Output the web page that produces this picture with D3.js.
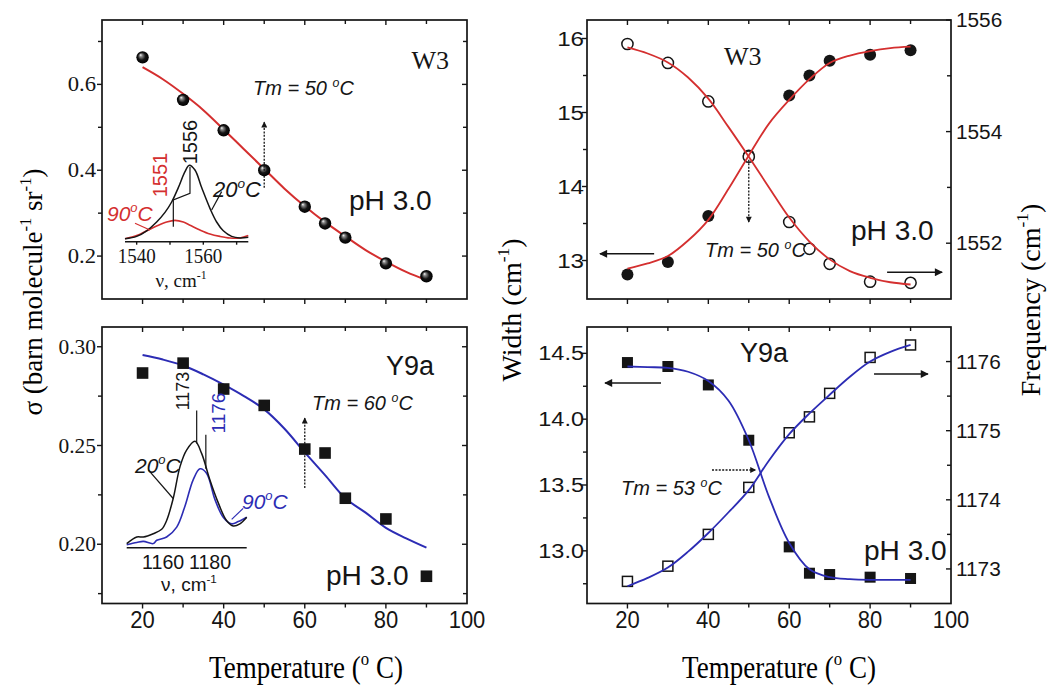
<!DOCTYPE html>
<html><head><meta charset="utf-8">
<script src="https://cdn.jsdelivr.net/npm/d3@7"></script>
<style>body{margin:0;background:#fff;} svg{display:block;}</style>
</head><body>
<svg id="chart" width="1050" height="689"></svg>
<script>
// ---------------- DATA ----------------
const temps = [20, 30, 40, 50, 60, 65, 70, 80, 90];
const fitTemps = [20, 25, 30, 35, 40, 45, 50, 55, 60, 65, 70, 75, 80, 85, 90];

// top-left: W3 cross-section
const w3Sigma    = [0.663, 0.564, 0.493, 0.400, 0.315, 0.276, 0.243, 0.183, 0.153];
const w3SigmaFit = [0.640, 0.612, 0.578, 0.540, 0.495, 0.449, 0.403, 0.357, 0.316, 0.279, 0.246, 0.214, 0.187, 0.163, 0.144];

// bottom-left: Y9a cross-section
const y9aSigma    = [0.2867, 0.2917, 0.2786, 0.2703, 0.2482, 0.2462, 0.2233, 0.2128, 0.1838];
const y9aSigmaFit = [0.2958, 0.2935, 0.2905, 0.2860, 0.2808, 0.2750, 0.2683, 0.2585, 0.2465, 0.2350, 0.2233, 0.2160, 0.2083, 0.2030, 0.1983];

// top-right: W3 width (filled) and frequency (open)
const w3Width    = [12.81, 12.98, 13.60, 14.42, 15.23, 15.50, 15.70, 15.78, 15.84];
const w3WidthFit = [12.89, 12.96, 13.06, 13.27, 13.55, 13.97, 14.42, 14.85, 15.17, 15.45, 15.67, 15.77, 15.83, 15.87, 15.89];
const w3Freq     = [1555.57, 1555.23, 1554.54, 1553.55, 1552.38, 1551.90, 1551.63, 1551.31, 1551.29];
const w3FreqFit  = [1555.51, 1555.40, 1555.24, 1554.97, 1554.59, 1554.08, 1553.55, 1553.00, 1552.46, 1552.03, 1551.71, 1551.50, 1551.38, 1551.30, 1551.26];

// bottom-right: Y9a width (filled) and frequency (open)
const y9aWidth    = [14.43, 14.40, 14.26, 13.84, 13.03, 12.83, 12.82, 12.80, 12.79];
const y9aWidthFit = [14.40, 14.395, 14.39, 14.36, 14.29, 14.14, 13.84, 13.41, 13.06, 12.86, 12.80, 12.785, 12.78, 12.78, 12.78];
const y9aFreq     = [1172.82, 1173.04, 1173.50, 1174.18, 1174.97, 1175.20, 1175.54, 1176.06, 1176.24];
const y9aFreqFit  = [1172.75, 1172.87, 1173.02, 1173.25, 1173.52, 1173.82, 1174.14, 1174.57, 1174.95, 1175.25, 1175.52, 1175.78, 1176.00, 1176.14, 1176.24];

// inset spectra
const w3SpecNu   = [1536.5, 1540, 1543, 1546, 1548.5, 1550.5, 1552.5, 1554.5, 1555.8, 1557.5, 1559.5, 1562, 1564, 1566, 1568.5, 1571, 1573.5];
const w3Spec20   = [0.04, 0.07, 0.14, 0.25, 0.37, 0.50, 0.68, 0.88, 0.96, 0.90, 0.68, 0.42, 0.25, 0.14, 0.07, 0.05, 0.06];
const w3Spec90Nu = [1536.5, 1540, 1543, 1546, 1549, 1551.5, 1554, 1556, 1559, 1562, 1565, 1568, 1571, 1573.5];
const w3Spec90   = [0.04, 0.08, 0.14, 0.20, 0.25, 0.27, 0.25, 0.21, 0.15, 0.10, 0.07, 0.05, 0.05, 0.08];

const y9aSpecNu   = [1144.5, 1148.8, 1151.6, 1155.8, 1159.4, 1161.5, 1164.3, 1167.2, 1170.0, 1173.6, 1176.4, 1179.9, 1183.5, 1187.0, 1189.9, 1192.7, 1195.6];
const y9aSpec20   = [0.04, 0.10, 0.10, 0.13, 0.17, 0.25, 0.45, 0.74, 0.89, 0.97, 0.86, 0.62, 0.41, 0.25, 0.20, 0.22, 0.28];
const y9aSpec90Nu = [1144.5, 1148.8, 1151.6, 1155.8, 1157.3, 1161.5, 1165.8, 1169.3, 1172.8, 1175.7, 1178.5, 1182.1, 1185.6, 1189.2, 1192.0, 1195.6];
const y9aSpec90   = [0.03, 0.05, 0.06, 0.04, 0.07, 0.10, 0.19, 0.38, 0.62, 0.72, 0.68, 0.44, 0.28, 0.22, 0.24, 0.28];

// tick labels
const xTickLabels  = [20, 40, 60, 80, 100];
const xMinorTicks  = [30, 50, 70, 90];
const tlYTicks     = ["0.2", "0.4", "0.6"];
const tlYMinor     = [0.3, 0.5, 0.7];
const blYTicks     = ["0.20", "0.25", "0.30"];
const blYMinor     = [0.175, 0.225, 0.275];
const trLeftTicks  = ["13", "14", "15", "16"];
const trLeftMinor  = [13.5, 14.5, 15.5];
const trRightTicks = ["1552", "1554", "1556"];
const trRightMinor = [1553, 1555];
const brLeftTicks  = ["13.0", "13.5", "14.0", "14.5"];
const brLeftMinor  = [12.75, 13.25, 13.75, 14.25];
const brRightTicks = ["1173", "1174", "1175", "1176"];
const brRightMinor = [1173.5, 1174.5, 1175.5];
const w3InsetTicks  = ["1540", "1560"];
const y9aInsetTicks = ["1160", "1180"];

// ---------------- SETUP ----------------
const svg = d3.select('#chart');
const SERIF = '"Liberation Serif","Times New Roman",serif';
const SANS = '"Liberation Sans",Arial,sans-serif';
const RED = '#d42f2f', BLUE = '#2c2cb4', INK = '#151515';

const defs = svg.append('defs');
const grad = defs.append('radialGradient').attr('id', 'sphere')
  .attr('cx', '50%').attr('cy', '50%').attr('r', '50%').attr('fx', '33%').attr('fy', '30%');
grad.append('stop').attr('offset', '0').attr('stop-color', '#ffffff');
grad.append('stop').attr('offset', '0.22').attr('stop-color', '#8a8a8a');
grad.append('stop').attr('offset', '0.6').attr('stop-color', '#151515');
grad.append('stop').attr('offset', '1').attr('stop-color', '#000');
function arrowDef(id, w, h) {
  defs.append('marker').attr('id', id).attr('viewBox', '0 0 10 10')
    .attr('refX', 9).attr('refY', 5).attr('markerWidth', w).attr('markerHeight', h)
    .attr('markerUnits', 'userSpaceOnUse').attr('orient', 'auto')
    .append('path').attr('d', 'M0,0 L10,5 L0,10 z').attr('fill', INK);
}
arrowDef('headS', 13, 8);
arrowDef('headD', 7, 6);

// text helper with superscript parts
function label(g, x, y, parts, o = {}) {
  const size = o.size || 20;
  let tf = `translate(${x},${y})`;
  if (o.rot) tf += ` rotate(${o.rot})`;
  if (o.sx || o.sy) tf += ` scale(${o.sx || 1},${o.sy || 1})`;
  const t = g.append('text').attr('transform', tf)
    .attr('font-family', o.font || SANS).attr('font-size', size)
    .attr('text-anchor', o.anchor || 'start').attr('fill', o.fill || INK);
  if (o.italic) t.attr('font-style', 'italic');
  let cur = 0;
  (typeof parts === 'string' ? [parts] : parts).forEach(p => {
    if (typeof p === 'string') {
      const ts = t.append('tspan').text(p);
      if (cur) { ts.attr('dy', -cur); cur = 0; }
    } else {
      const sh = -size * 0.42;
      t.append('tspan').text(p.sup).attr('font-size', size * 0.62).attr('dy', sh - cur);
      cur = sh;
    }
  });
  return t;
}

function tickLines(g, scale, vals, axis, pos, len) {
  g.selectAll(null).data(vals).join('line')
    .attr('x1', d => axis === 'x' ? scale(d) : pos)
    .attr('x2', d => axis === 'x' ? scale(d) : pos + len)
    .attr('y1', d => axis === 'x' ? pos : scale(d))
    .attr('y2', d => axis === 'x' ? pos + len : scale(d))
    .attr('stroke', INK).attr('stroke-width', 1.4);
}

const xL = d3.scaleLinear([10, 100], [102, 467]);
const xR = d3.scaleLinear([10, 100], [587, 951]);
const TOP = [20, 299], BOT = [327, 603.5];

function frame(g, xs, ys, bottomLabels) {
  const [x0, x1] = xs.range();
  const [y1, y0] = ys.range();
  tickLines(g, xs, xTickLabels.filter(v => v < 100), 'x', y1, 5);
  tickLines(g, xs, xMinorTicks, 'x', y1, 4);
  tickLines(g, xs, xTickLabels.filter(v => v < 100), 'x', y0, 5);
  tickLines(g, xs, xMinorTicks, 'x', y0, 4);
  g.append('rect').attr('x', x0).attr('y', y0).attr('width', x1 - x0).attr('height', y1 - y0)
    .attr('fill', 'none').attr('stroke', INK).attr('stroke-width', 1.7);
  if (bottomLabels) {
    xTickLabels.forEach(d => label(g, xs(d), 628, String(d), {size: 22, anchor: 'middle', sy: 1.05}));
  }
}

function lineGen(xs, ys) {
  return d3.line().x(d => xs(d[0])).y(d => ys(d[1])).curve(d3.curveCatmullRom.alpha(0.5));
}
const zip = (a, b) => a.map((v, i) => [v, b[i]]);

function dashedArrow(g, pts) {
  g.append('path').attr('d', d3.line()(pts)).attr('fill', 'none')
    .attr('stroke', INK).attr('stroke-width', 1.3).attr('stroke-dasharray', '2,1.4')
    .attr('marker-end', 'url(#headD)');
}
function solidArrow(g, pts) {
  g.append('path').attr('d', d3.line()(pts)).attr('fill', 'none')
    .attr('stroke', INK).attr('stroke-width', 1.5).attr('marker-end', 'url(#headS)');
}

// ---------------- TOP-LEFT ----------------
{
  const g = svg.append('g');
  const y = d3.scaleLinear([0.1, 0.75], [TOP[1], TOP[0]]);
  frame(g, xL, y, false);
  tickLines(g, y, tlYTicks.map(Number), 'y', 102, -5);
  tickLines(g, y, tlYMinor, 'y', 102, -4);
  tickLines(g, y, tlYTicks.map(Number), 'y', 467, -5);
  tickLines(g, y, tlYMinor, 'y', 467, -4);
  tlYTicks.forEach(t => label(g, 96, y(+t) + 7, t, {font: SERIF, size: 21, anchor: 'end', sx: 1.08}));

  g.append('path').attr('d', lineGen(xL, y)(zip(fitTemps, w3SigmaFit)))
    .attr('fill', 'none').attr('stroke', RED).attr('stroke-width', 2);
  g.selectAll(null).data(zip(temps, w3Sigma)).join('circle')
    .attr('cx', d => xL(d[0])).attr('cy', d => y(d[1])).attr('r', 6.2).attr('fill', 'url(#sphere)');

  // inset
  const xi = d3.scaleLinear([1536.5, 1573.5], [125, 248.3]);
  const yi = d3.scaleLinear([0, 1], [242, 162]);
  g.append('line').attr('x1', xi.range()[0]).attr('x2', xi.range()[1]).attr('y1', 241.7).attr('y2', 241.7)
    .attr('stroke', INK).attr('stroke-width', 1.4);
  tickLines(g, xi, [1540, 1550, 1560, 1570], 'x', 241.7, 3);
  const li = lineGen(xi, yi);
  g.append('path').attr('d', li(zip(w3Spec90Nu, w3Spec90))).attr('fill', 'none').attr('stroke', RED).attr('stroke-width', 1.6);
  g.append('path').attr('d', li(zip(w3SpecNu, w3Spec20))).attr('fill', 'none').attr('stroke', INK).attr('stroke-width', 1.5);
  const pl = d3.line().x(d => xi(d[0])).y(d => yi(d[1]));
  g.append('path').attr('d', pl([[1556, 0.94], [1556, 0.608], [1551, 0.525], [1551, 0.19]])).attr('fill', 'none').attr('stroke', INK).attr('stroke-width', 1.2);
  g.append('path').attr('d', pl([[1565.5, 0.63], [1562.5, 0.40]])).attr('fill', 'none').attr('stroke', INK).attr('stroke-width', 1.2);
  g.append('path').attr('d', pl([[1539.5, 0.234], [1544, 0.15]])).attr('fill', 'none').attr('stroke', RED).attr('stroke-width', 1.2);
  w3InsetTicks.forEach(t => label(g, xi(+t), 263, t, {font: SERIF, size: 19, anchor: 'middle', sy: 1.1}));
  label(g, 181, 287, ['ν, cm', {sup: '-1'}], {font: SERIF, size: 19, anchor: 'middle'});
  label(g, 190 + 7, 142, '1556', {size: 20, anchor: 'middle', rot: -90});
  label(g, 160 + 7, 175, '1551', {size: 20, anchor: 'middle', rot: -90, fill: RED});
  label(g, 213, 197, ['20', {sup: 'o'}, 'C'], {size: 22, italic: true});
  label(g, 107, 221, ['90', {sup: 'o'}, 'C'], {size: 21, italic: true, fill: RED});

  label(g, 449, 69, 'W3', {font: SERIF, size: 26, anchor: 'end'});
  label(g, 253, 95, ['Tm = 50 ', {sup: 'o'}, 'C'], {size: 20, italic: true});
  label(g, 349, 210, 'pH 3.0', {size: 27, sx: 1.04});
  dashedArrow(g, [[xL(50), y(0.359)], [xL(50), y(0.512)]]);
}

// ---------------- BOTTOM-LEFT ----------------
{
  const g = svg.append('g');
  const y = d3.scaleLinear([0.17, 0.31], [BOT[1], BOT[0]]);
  frame(g, xL, y, true);
  tickLines(g, y, blYTicks.map(Number), 'y', 102, -5);
  tickLines(g, y, blYMinor, 'y', 102, -4);
  tickLines(g, y, blYTicks.map(Number), 'y', 467, -5);
  tickLines(g, y, blYMinor, 'y', 467, -4);
  blYTicks.forEach(t => label(g, 96, y(+t) + 7, t, {font: SERIF, size: 21, anchor: 'end', sx: 1.02}));

  g.append('path').attr('d', lineGen(xL, y)(zip(fitTemps, y9aSigmaFit)))
    .attr('fill', 'none').attr('stroke', BLUE).attr('stroke-width', 2);
  g.selectAll(null).data(zip(temps, y9aSigma)).join('rect')
    .attr('x', d => xL(d[0]) - 5.8).attr('y', d => y(d[1]) - 5.8).attr('width', 11.6).attr('height', 11.6).attr('fill', INK);

  const xi = d3.scaleLinear([1144.5, 1195.6], [126.7, 246.7]);
  const yi = d3.scaleLinear([0, 1], [548, 438]);
  g.append('line').attr('x1', xi.range()[0]).attr('x2', xi.range()[1]).attr('y1', 547.7).attr('y2', 547.7)
    .attr('stroke', INK).attr('stroke-width', 1.4);
  const li = lineGen(xi, yi);
  g.append('path').attr('d', li(zip(y9aSpec90Nu, y9aSpec90))).attr('fill', 'none').attr('stroke', BLUE).attr('stroke-width', 1.6);
  g.append('path').attr('d', li(zip(y9aSpecNu, y9aSpec20))).attr('fill', 'none').attr('stroke', INK).attr('stroke-width', 1.5);
  const pl = d3.line().x(d => xi(d[0])).y(d => yi(d[1]));
  g.append('path').attr('d', pl([[1174.3, 1.25], [1174.3, 0.95]])).attr('fill', 'none').attr('stroke', INK).attr('stroke-width', 1.2);
  g.append('path').attr('d', pl([[1178.2, 1.03], [1178.2, 0.72]])).attr('fill', 'none').attr('stroke', INK).attr('stroke-width', 1.2);
  g.append('path').attr('d', pl([[1153.7, 0.71], [1164.3, 0.45]])).attr('fill', 'none').attr('stroke', INK).attr('stroke-width', 1.2);
  g.append('path').attr('d', pl([[1189.2, 0.26], [1194.1, 0.36]])).attr('fill', 'none').attr('stroke', BLUE).attr('stroke-width', 1.2);
  y9aInsetTicks.forEach(t => label(g, xi(+t), 569, t, {size: 20, anchor: 'middle', sx: 0.98}));
  label(g, 189, 591, ['ν, cm', {sup: '-1'}], {size: 19, anchor: 'middle'});
  label(g, 182 + 6.5, 391, '1173', {size: 18, anchor: 'middle', rot: -90});
  label(g, 218 + 7, 413, '1176', {size: 19, anchor: 'middle', rot: -90, fill: BLUE});
  label(g, 135, 473, ['20', {sup: 'o'}, 'C'], {size: 21, italic: true});
  label(g, 242, 509, ['90', {sup: 'o'}, 'C'], {size: 21, italic: true, fill: BLUE});

  label(g, 386, 375, 'Y9a', {size: 27});
  label(g, 312, 410, ['Tm = 60 ', {sup: 'o'}, 'C'], {size: 20, italic: true});
  label(g, 326, 585, 'pH 3.0', {size: 27, sx: 1.04});
  dashedArrow(g, [[xL(60), y(0.2285)], [xL(60), y(0.2639)]]);
}

// ---------------- TOP-RIGHT ----------------
{
  const g = svg.append('g');
  const yw = d3.scaleLinear([12.48, 16.25], [TOP[1], TOP[0]]);
  const yf = d3.scaleLinear([1551, 1556], [TOP[1], TOP[0]]);
  frame(g, xR, yw, false);
  tickLines(g, yw, trLeftTicks.map(Number), 'y', 587, -5);
  tickLines(g, yw, trLeftMinor, 'y', 587, -4);
  tickLines(g, yf, trRightTicks.map(Number), 'y', 951, -5);
  tickLines(g, yf, trRightMinor, 'y', 951, -4);
  trLeftTicks.forEach(t => label(g, 584, yw(+t) + 7, t, {size: 21, anchor: 'end', sx: 1.15}));
  trRightTicks.forEach(t => label(g, 956, yf(+t) + 7, t, {size: 20, sx: 1.04}));

  g.selectAll(null).data(zip(temps, w3Width)).join('circle')
    .attr('cx', d => xR(d[0])).attr('cy', d => yw(d[1])).attr('r', 6).attr('fill', INK);
  g.selectAll(null).data(zip(temps, w3Freq)).join('circle')
    .attr('cx', d => xR(d[0])).attr('cy', d => yf(d[1])).attr('r', 5.6)
    .attr('fill', '#fff').attr('stroke', INK).attr('stroke-width', 1.5);
  g.append('path').attr('d', lineGen(xR, yw)(zip(fitTemps, w3WidthFit)))
    .attr('fill', 'none').attr('stroke', RED).attr('stroke-width', 1.8);
  g.append('path').attr('d', lineGen(xR, yf)(zip(fitTemps, w3FreqFit)))
    .attr('fill', 'none').attr('stroke', RED).attr('stroke-width', 1.8);

  label(g, 724, 65, 'W3', {font: SERIF, size: 26});
  label(g, 705, 257, ['Tm = 50 ', {sup: 'o'}, 'C'], {size: 20, italic: true});
  label(g, 851, 240, 'pH 3.0', {size: 27, sx: 1.04});
  dashedArrow(g, [[xR(50), yw(14.36)], [xR(50), yw(13.52)]]);
  solidArrow(g, [[xR(26.6), yw(13.09)], [xR(13.2), yw(13.09)]]);
  solidArrow(g, [[xR(84.2), yf(1551.48)], [xR(97.8), yf(1551.48)]]);
}

// ---------------- BOTTOM-RIGHT ----------------
{
  const g = svg.append('g');
  const yw = d3.scaleLinear([12.6, 14.7], [BOT[1], BOT[0]]);
  const yf = d3.scaleLinear([1172.5, 1176.5], [BOT[1], BOT[0]]);
  frame(g, xR, yw, true);
  tickLines(g, yw, brLeftTicks.map(Number), 'y', 587, -5);
  tickLines(g, yw, brLeftMinor, 'y', 587, -4);
  tickLines(g, yf, brRightTicks.map(Number), 'y', 951, -5);
  tickLines(g, yf, brRightMinor, 'y', 951, -4);
  brLeftTicks.forEach(t => label(g, 584, yw(+t) + 7, t, {size: 21, anchor: 'end', sx: 1.12}));
  brRightTicks.forEach(t => label(g, 956, yf(+t) + 7, t, {size: 20, sx: 1.04}));

  g.selectAll(null).data(zip(temps, y9aWidth)).join('rect')
    .attr('x', d => xR(d[0]) - 5.5).attr('y', d => yw(d[1]) - 5.5).attr('width', 11).attr('height', 11).attr('fill', INK);
  g.selectAll(null).data(zip(temps, y9aFreq)).join('rect')
    .attr('x', d => xR(d[0]) - 5).attr('y', d => yf(d[1]) - 5).attr('width', 10).attr('height', 10)
    .attr('fill', '#fff').attr('stroke', INK).attr('stroke-width', 1.5);
  g.append('path').attr('d', lineGen(xR, yw)(zip(fitTemps, y9aWidthFit)))
    .attr('fill', 'none').attr('stroke', BLUE).attr('stroke-width', 1.8);
  g.append('path').attr('d', lineGen(xR, yf)(zip(fitTemps, y9aFreqFit)))
    .attr('fill', 'none').attr('stroke', BLUE).attr('stroke-width', 1.8);

  label(g, 740, 362, 'Y9a', {size: 27});
  label(g, 621, 495, ['Tm = 53 ', {sup: 'o'}, 'C'], {size: 20, italic: true});
  label(g, 864, 560, 'pH 3.0', {size: 27, sx: 1.04});
  dashedArrow(g, [[xR(40.9), yw(13.614)], [xR(51.7), yw(13.614)]]);
  solidArrow(g, [[xR(28.3), yw(14.275)], [xR(14.45), yw(14.275)]]);
  solidArrow(g, [[xR(80.97), yf(1175.82)], [xR(94.3), yf(1175.82)]]);
}

// ---------------- AXIS TITLES ----------------
label(svg, 306, 678, ['Temperature (', {sup: 'o'}, ' C)'], {font: SERIF, size: 27, sy: 1.14, anchor: 'middle', fill: '#000'});
label(svg, 779, 678, ['Temperature (', {sup: 'o'}, ' C)'], {font: SERIF, size: 27, sy: 1.14, anchor: 'middle', fill: '#000'});
label(svg, 42, 292, ['σ (barn molecule', {sup: '-1'}, ' sr', {sup: '-1'}, ')'], {font: SERIF, size: 27, anchor: 'middle', rot: -90, fill: '#000'});
label(svg, 521, 310, ['Width (cm', {sup: '-1'}, ')'], {font: SERIF, size: 28, anchor: 'middle', rot: -90, fill: '#000'});
label(svg, 1040, 300, ['Frequency (cm', {sup: '-1'}, ')'], {font: SERIF, size: 28, anchor: 'middle', rot: -90, fill: '#000'});
</script>
</body></html>
